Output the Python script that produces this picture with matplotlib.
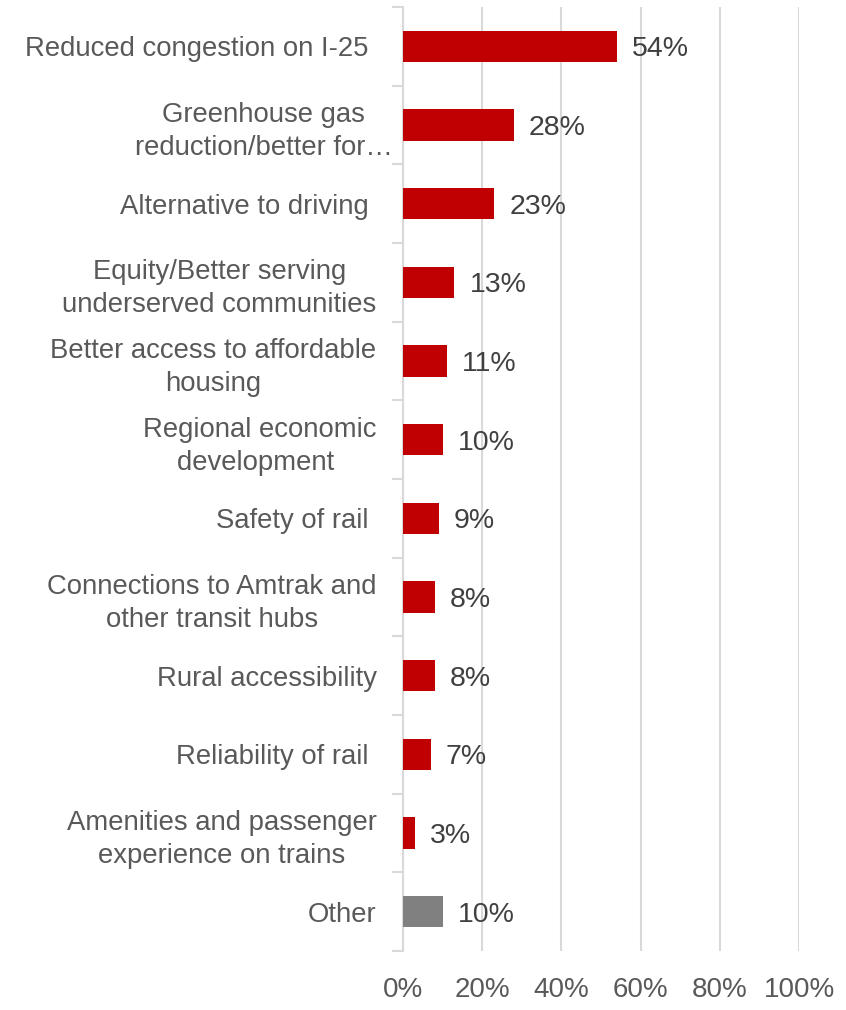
import matplotlib.pyplot as plt
import matplotlib.transforms as mtransforms
import numpy as np

plt.rcParams.update({
    "font.family": "Liberation Sans",
    "font.size": 19,
})

categories = [
    "Reduced congestion on I-25 ",
    "Greenhouse gas\nreduction/better for…",
    "Alternative to driving ",
    "Equity/Better serving\nunderserved communities",
    "Better access to affordable\nhousing",
    "Regional economic\ndevelopment ",
    "Safety of rail ",
    "Connections to Amtrak and\nother transit hubs",
    "Rural accessibility",
    "Reliability of rail ",
    "Amenities and passenger\nexperience on trains",
    "Other",
]
values = [54, 28, 23, 13, 11, 10, 9, 8, 8, 7, 3, 10]
colors = ["#C00000"] * 11 + ["#808080"]

fig = plt.figure(figsize=(8.46, 10.10), dpi=100)
ax = fig.add_axes([403 / 846, 1 - 951 / 1010, 396 / 846, 944 / 1010])

y = np.arange(len(categories))
ax.barh(y, values, height=0.4, color=colors, zorder=3)

for yi, v in zip(y, values):
    ax.text(v + 3.8, yi, f"{v}%", va="center_baseline", ha="left",
            fontsize=20.5, color="#404040", zorder=4)

ax.set_xlim(0, 100)
ax.set_ylim(len(categories) - 0.5, -0.5)
ax.set_xticks(np.arange(0, 101, 20))
ax.set_xticklabels([f"{t}%" for t in range(0, 101, 20)], fontsize=20, color="#595959")
ax.tick_params(axis="x", length=0, pad=19)
ax.grid(axis="x", color="#d9d9d9", linewidth=1.5, zorder=0)

# category labels at bar centres, tick marks at band edges
ax.set_yticks(y)
ax.set_yticklabels(categories, fontsize=19.8, color="#595959",
                   multialignment="center", linespacing=1.35)
ax.tick_params(axis="y", which="major", length=0, pad=19)
ax.set_yticks(np.arange(-0.5, len(categories)), minor=True)
ax.tick_params(axis="y", which="minor", length=8, width=1.5, color="#d9d9d9")

# the truncated label sits closer to the axis
lbl = ax.get_yticklabels()[1]
lbl.set_transform(lbl.get_transform() + mtransforms.ScaledTranslation(16 / 100, 0, fig.dpi_scale_trans))

for side in ["top", "right", "bottom"]:
    ax.spines[side].set_visible(False)
ax.spines["left"].set_color("#d9d9d9")
ax.spines["left"].set_linewidth(1.5)

fig.savefig("out.png", dpi=100)
